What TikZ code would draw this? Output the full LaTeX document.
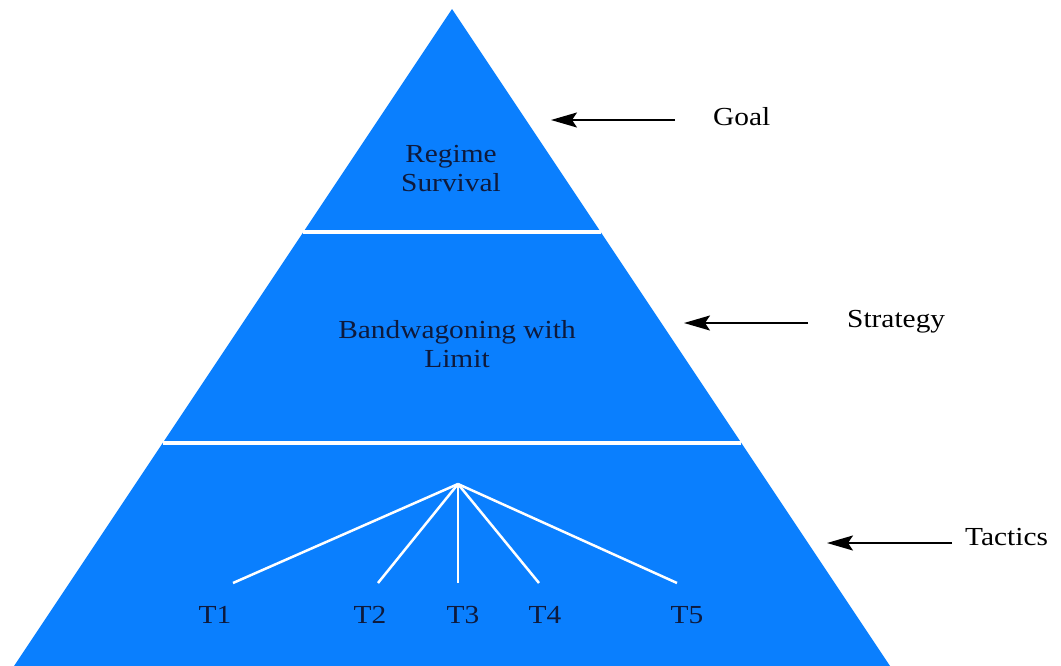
\documentclass[tikz,border=0pt]{standalone}
\usepackage{fontspec}
\setmainfont{Liberation Serif}[FakeStretch=1.13]
\usepackage{xcolor}
\usetikzlibrary{arrows.meta, calc}

\definecolor{pyrblue}{RGB}{10,127,254}
\definecolor{inktext}{RGB}{14,26,60}

\begin{document}
\begin{tikzpicture}[x=1pt, y=-1pt,
    every node/.style={inner sep=0pt, font=\fontsize{26}{29.5}\selectfont},
    level/.style={align=center, text=inktext},
    side/.style={anchor=base west, text=black},
    tlabel/.style={anchor=base, text=inktext},
    divider/.style={draw=white, line width=3.5pt},
    branch/.style={draw=white, line width=2.5pt},
    pointer/.style={-{Stealth[length=26pt, width=15pt, inset=5pt]}, line width=1.8pt}]
    \useasboundingbox (0,0) rectangle (1061,665);

    % Pyramid
    \coordinate (apex) at (452,9);
    \coordinate (bl) at (-2,690);
    \coordinate (br) at (906,690);
    \fill[pyrblue] (apex) -- (bl) -- (br) -- cycle;

    % Level dividers
    \coordinate (d1l) at ($(apex)!0.3275!(bl)$);
    \coordinate (d1r) at ($(apex)!0.3275!(br)$);
    \coordinate (d2l) at ($(apex)!0.6373!(bl)$);
    \coordinate (d2r) at ($(apex)!0.6373!(br)$);
    \draw[divider] (d1l) -- (d1r);
    \draw[divider] (d2l) -- (d2r);

    % Level texts
    \node[level] (goaltxt) at (451,168.5) {Regime\\Survival};
    \node[level] (strattxt) at (457,344) {Bandwagoning with\\Limit};

    % Tactics tree
    \coordinate (hub) at (458,484);
    \coordinate (l1) at (233,583);
    \coordinate (l2) at (378,583);
    \coordinate (l3) at (458,583);
    \coordinate (l4) at (539,583);
    \coordinate (l5) at (677,583);
    \draw[branch] (hub) -- (l1);
    \draw[branch] (hub) -- (l2);
    \draw[branch] (hub) -- (l3);
    \draw[branch] (hub) -- (l4);
    \draw[branch] (hub) -- (l5);

    \node[tlabel] (t1) at (215,623) {T1};
    \node[tlabel] (t2) at (370,623) {T2};
    \node[tlabel] (t3) at (463,623) {T3};
    \node[tlabel] (t4) at (545,623) {T4};
    \node[tlabel] (t5) at (687,623) {T5};

    % Side labels and arrows
    \node[side] (goal) at (713,125) {Goal};
    \node[side] (strategy) at (847,327) {Strategy};
    \node[side] (tactics) at (965,545) {Tactics};

    \coordinate (gtip) at (551,120);
    \coordinate (stip) at (684,323);
    \coordinate (ttip) at (827,543);
    \draw[pointer] ([xshift=-38]goal.west |- gtip) -- (gtip);
    \draw[pointer] ([xshift=-39]strategy.west |- stip) -- (stip);
    \draw[pointer] ([xshift=-13]tactics.west |- ttip) -- (ttip);
\end{tikzpicture}
\end{document}
